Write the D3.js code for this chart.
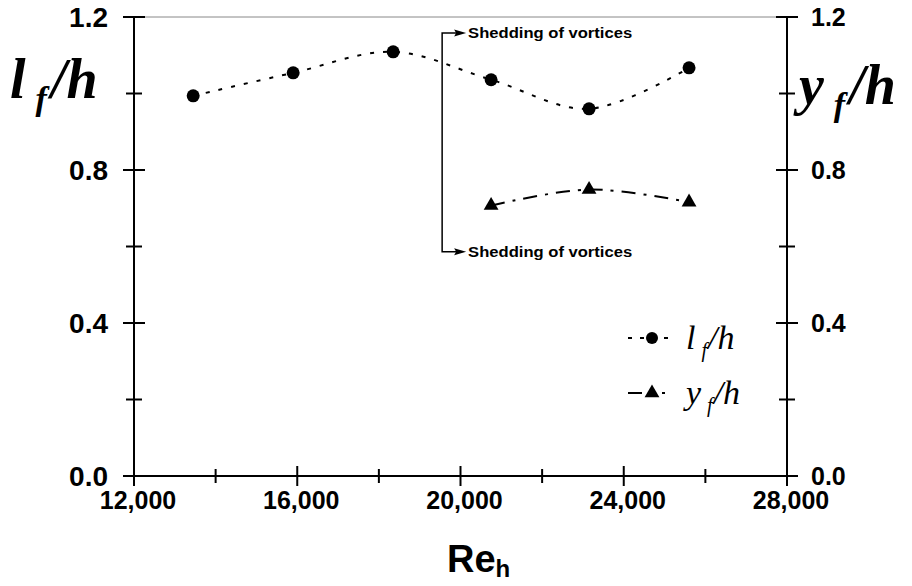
<!DOCTYPE html>
<html>
<head>
<meta charset="utf-8">
<script src="https://cdn.jsdelivr.net/npm/d3@7"></script>
<style>
  html, body { margin: 0; padding: 0; background: #fff; }
  svg { display: block; }
</style>
</head>
<body>
<svg id="chart" width="912" height="586"></svg>
<script>
// Reynolds numbers and the two measured ratios
const reLf = [13450, 15900, 18350, 20750, 23150, 25600];
const lfValues = [0.994, 1.054, 1.109, 1.036, 0.960, 1.067];
const reYf = [20750, 23150, 25600];
const yfValues = [0.707, 0.749, 0.716];

const xTicks = [12000, 14000, 16000, 18000, 20000, 22000, 24000, 26000, 28000];
const xTickLabels = ["12,000", "", "16,000", "", "20,000", "", "24,000", "", "28,000"];
const yTicks = [0, 0.2, 0.4, 0.6, 0.8, 1.0, 1.2];
const yTickLabels = ["0.0", "", "0.4", "", "0.8", "", "1.2"];

const sheddingRe = 19550;
const sheddingTop = 1.158;
const sheddingBottom = 0.586;
const sheddingText = "Shedding of vortices";

(function () {
const svg = d3.select("#chart");
const plotLeft = 134, plotRight = 787, plotTop = 17, plotBottom = 476;

const x = d3.scaleLinear().domain([12000, 28000]).range([plotLeft, plotRight]);
const y = d3.scaleLinear().domain([0, 1.2]).range([plotBottom, plotTop]);

const tickFont = "'Liberation Sans', Arial, sans-serif";
const serif = "'Liberation Serif', 'Times New Roman', serif";

// thin frame line across the top
svg.append("line")
  .attr("x1", plotLeft).attr("x2", plotRight).attr("y1", plotTop).attr("y2", plotTop)
  .attr("stroke", "#888").attr("stroke-width", 1);

// axis lines
const axisG = svg.append("g").attr("stroke", "#000").attr("stroke-width", 2);
axisG.append("line").attr("x1", plotLeft).attr("x2", plotLeft).attr("y1", plotTop).attr("y2", plotBottom);
axisG.append("line").attr("x1", plotRight).attr("x2", plotRight).attr("y1", plotTop).attr("y2", plotBottom);
axisG.append("line").attr("x1", plotLeft).attr("x2", plotRight).attr("y1", plotBottom).attr("y2", plotBottom);

// y ticks on both sides, crossing the axis line
yTicks.forEach((t, i) => {
  const major = yTickLabels[i] !== "";
  const half = major ? 11 : 8;
  [plotLeft, plotRight].forEach(ax => {
    axisG.append("line")
      .attr("x1", ax - half).attr("x2", ax + half)
      .attr("y1", y(t)).attr("y2", y(t));
  });
});
// x ticks
xTicks.forEach((t, i) => {
  const major = xTickLabels[i] !== "";
  const half = major ? 10 : 7;
  axisG.append("line")
    .attr("x1", x(t)).attr("x2", x(t))
    .attr("y1", plotBottom - half).attr("y2", plotBottom + half);
});

// tick labels
const yLabelled = yTicks.filter((d, i) => yTickLabels[i] !== "");
svg.append("g").selectAll("text").data(yLabelled)
  .join("text")
  .attr("x", plotLeft - 26).attr("y", d => y(d) + 10)
  .attr("text-anchor", "end")
  .attr("font-family", tickFont).attr("font-weight", "bold").attr("font-size", 28)
  .text(d => yTickLabels[yTicks.indexOf(d)]);
svg.append("g").selectAll("text").data(yLabelled)
  .join("text")
  .attr("x", plotRight + 24).attr("y", d => y(d) + 9)
  .attr("text-anchor", "start")
  .attr("font-family", tickFont).attr("font-weight", "bold").attr("font-size", 25)
  .text(d => yTickLabels[yTicks.indexOf(d)]);
svg.append("g").selectAll("text").data(xTicks.filter((d, i) => xTickLabels[i] !== ""))
  .join("text")
  .attr("x", d => x(d) + 4).attr("y", plotBottom + 33)
  .attr("text-anchor", "middle")
  .attr("font-family", tickFont).attr("font-weight", "bold").attr("font-size", 25)
  .text(d => xTickLabels[xTicks.indexOf(d)]);

// axis titles
const xt = svg.append("text")
  .attr("x", 447).attr("y", 572)
  .attr("font-family", tickFont).attr("font-weight", "bold").attr("font-size", 38);
xt.append("tspan").text("Re");
xt.append("tspan").attr("font-size", 24).attr("dy", 5).text("h");

function ratioTitle(sel, xPos, yPos, letter) {
  const t = sel.append("text")
    .attr("x", xPos).attr("y", yPos)
    .attr("font-family", serif).attr("font-style", "italic").attr("font-weight", "bold")
    .attr("font-size", 56);
  t.append("tspan").text(letter);
  t.append("tspan").attr("font-size", 34).attr("dy", 12).attr("dx", 10).text("f");
  t.append("tspan").attr("dy", -12).attr("dx", 4).text("/h");
}
ratioTitle(svg, 10, 98, "l");
ratioTitle(svg, 799, 104, "y");

// data curves
const lfData = reLf.map((r, i) => [r, lfValues[i]]);
const yfData = reYf.map((r, i) => [r, yfValues[i]]);
const line = d3.line().x(d => x(d[0])).y(d => y(d[1])).curve(d3.curveCatmullRom.alpha(0.5));

svg.append("path").datum(lfData)
  .attr("d", line).attr("fill", "none").attr("stroke", "#000")
  .attr("stroke-width", 2).attr("stroke-dasharray", "4,9");
svg.append("path").datum(yfData)
  .attr("d", line).attr("fill", "none").attr("stroke", "#000")
  .attr("stroke-width", 2).attr("stroke-dasharray", "14,8,3,8");

svg.append("g").selectAll("circle").data(lfData).join("circle")
  .attr("cx", d => x(d[0])).attr("cy", d => y(d[1])).attr("r", 6.5).attr("fill", "#000");
const tri = d3.symbol().type(d3.symbolTriangle).size(95);
svg.append("g").selectAll("path").data(yfData).join("path")
  .attr("d", tri)
  .attr("transform", d => `translate(${x(d[0])},${y(d[1])})`)
  .attr("fill", "#000");

// shedding annotation bracket
const ann = svg.append("g");
const bx = x(sheddingRe), by1 = y(sheddingTop), by2 = y(sheddingBottom);
ann.append("path")
  .attr("d", `M${bx + 20},${by1} H${bx} V${by2} H${bx + 20}`)
  .attr("fill", "none").attr("stroke", "#000").attr("stroke-width", 1.5);
[by1, by2].forEach(yy => {
  ann.append("path")
    .attr("d", `M${bx + 24},${yy} L${bx + 12},${yy - 3.5} L${bx + 14},${yy} L${bx + 12},${yy + 3.5} Z`)
    .attr("fill", "#000");
  ann.append("text")
    .attr("x", bx + 26).attr("y", yy + 5)
    .attr("font-family", tickFont).attr("font-weight", "bold").attr("font-size", 14)
    .attr("textLength", 164).attr("lengthAdjust", "spacingAndGlyphs")
    .text(sheddingText);
});

// legend
const legend = svg.append("g");
const legendRows = [
  { y: 338, letter: "l", marker: "circle" },
  { y: 393, letter: "y", marker: "triangle" }
];
legendRows.forEach(r => {
  legend.append("line")
    .attr("x1", 628).attr("x2", 668).attr("y1", r.y).attr("y2", r.y)
    .attr("stroke", "#000").attr("stroke-width", 2)
    .attr("stroke-dasharray", r.marker === "circle" ? "4,8" : "14,20,3,8");
  if (r.marker === "circle") {
    legend.append("circle").attr("cx", 652).attr("cy", r.y).attr("r", 6).attr("fill", "#000");
  } else {
    legend.append("path").attr("d", tri).attr("transform", `translate(652,${r.y})`).attr("fill", "#000");
  }
  const t = legend.append("text")
    .attr("x", 686).attr("y", r.y + 11)
    .attr("font-family", serif).attr("font-style", "italic").attr("font-size", 34);
  t.append("tspan").text(r.letter);
  t.append("tspan").attr("font-size", 20).attr("dy", 8).attr("dx", 6).text("f");
  t.append("tspan").attr("dy", -8).attr("dx", 1).text("/h");
});
})();
</script>
</body>
</html>
